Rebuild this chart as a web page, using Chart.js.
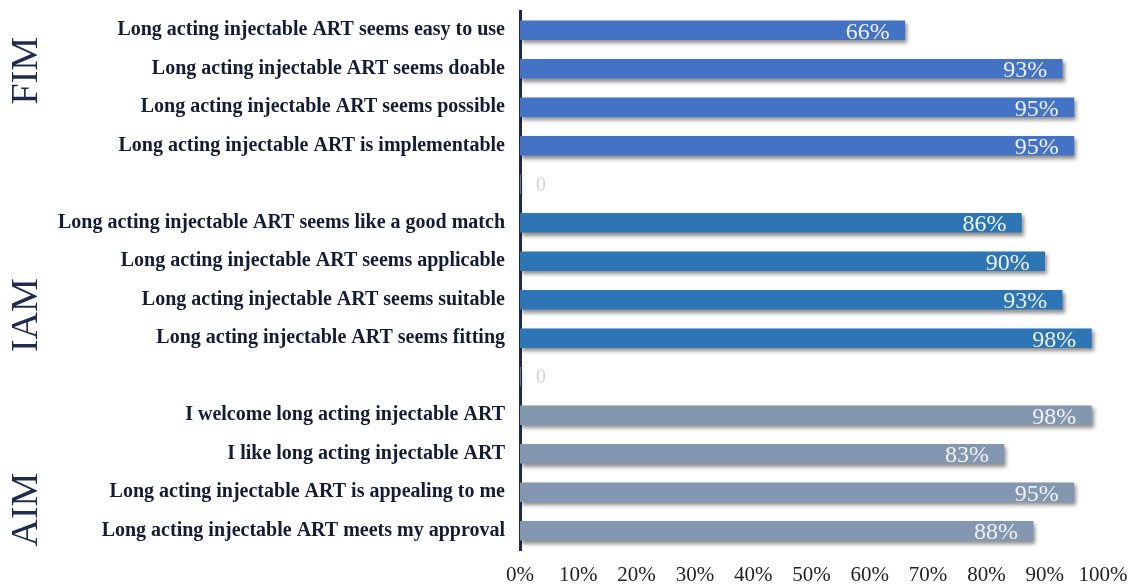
<!DOCTYPE html>
<html>
<head>
<meta charset="utf-8">
<script src="https://cdn.jsdelivr.net/npm/chart.js@4.4.1/dist/chart.umd.min.js"></script>
<style>
  html, body { margin: 0; padding: 0; background: #fff; }
  #wrap { width: 1128px; height: 586px; }
</style>
</head>
<body>
<div id="wrap"><canvas id="barChart"></canvas></div>
<script>
// Rows top to bottom; '' rows are the empty spacers that show "0"
const items = [
    'Long acting injectable ART seems easy to use',
    'Long acting injectable ART seems doable',
    'Long acting injectable ART seems possible',
    'Long acting injectable ART is implementable',
    '',
    'Long acting injectable ART seems like a good match',
    'Long acting injectable ART seems applicable',
    'Long acting injectable ART seems suitable',
    'Long acting injectable ART seems fitting',
    '',
    'I welcome long acting injectable ART',
    'I like long acting injectable ART',
    'Long acting injectable ART is appealing to me',
    'Long acting injectable ART meets my approval'
];
const percents = [66, 93, 95, 95, 0, 86, 90, 93, 98, 0, 98, 83, 95, 88];
const groupOf = ['FIM', 'FIM', 'FIM', 'FIM', '', 'IAM', 'IAM', 'IAM', 'IAM', '', 'AIM', 'AIM', 'AIM', 'AIM'];
const groupNames = ['FIM', 'IAM', 'AIM'];
const groupColors = { FIM: '#4472c4', IAM: '#2e75b6', AIM: '#8497b0' };

// drop shadow under the bars
const barShadow = {
    id: 'barShadow',
    beforeDatasetsDraw(chart) {
        const ctx = chart.ctx;
        ctx.save();
        ctx.shadowColor = 'rgba(0,0,0,0.45)';
        ctx.shadowOffsetX = 2;
        ctx.shadowOffsetY = 3;
        ctx.shadowBlur = 4;
    },
    afterDatasetsDraw(chart) {
        chart.ctx.restore();
    }
};

// value labels and the rotated group names
const extraText = {
    id: 'extraText',
    afterDraw(chart) {
        const ctx = chart.ctx;
        const x = chart.scales.x, y = chart.scales.y;
        ctx.save();
        ctx.textBaseline = 'middle';
        percents.forEach((v, i) => {
            const yy = y.getPixelForValue(i);
            if (v === 0) {
                ctx.font = '20px "Liberation Serif"';
                ctx.fillStyle = '#d4d4d4';
                ctx.textAlign = 'center';
                ctx.fillText('0', x.getPixelForValue(0) + 21, yy + 1);
            } else {
                ctx.font = '24px "Liberation Serif"';
                ctx.fillStyle = '#eef2f9';
                ctx.textAlign = 'right';
                ctx.fillText(v + '%', x.getPixelForValue(v) - 15, yy + 2);
            }
        });
        // group names sit beside the middle of their rows
        ctx.font = '38px "Liberation Serif"';
        ctx.fillStyle = '#1f2b4d';
        ctx.textAlign = 'center';
        const offsets = { FIM: -0.45, IAM: 0.9, AIM: 0.95 };
        groupNames.forEach(name => {
            const first = groupOf.indexOf(name), last = groupOf.lastIndexOf(name);
            const mid = y.getPixelForValue((first + last) / 2 + offsets[name]);
            ctx.save();
            ctx.translate(27, mid);
            ctx.rotate(-Math.PI / 2);
            ctx.fillText(name, 0, 0);
            ctx.restore();
        });
        ctx.restore();
    }
};

const ctxBar = document.getElementById('barChart').getContext('2d');

const barChart = new Chart(ctxBar, {
    type: 'bar',
    data: {
        labels: items,
        datasets: [{
            data: percents,
            backgroundColor: groupOf.map(g => groupColors[g] || '#ffffff'),
            barThickness: 19
        }]
    },
    options: {
        indexAxis: 'y',
        responsive: true,
        maintainAspectRatio: false,
        animation: false,
        layout: { padding: { top: 11, right: 25, bottom: 0, left: 0 } },
        plugins: { legend: { display: false }, tooltip: { enabled: false } },
        scales: {
            x: {
                min: 0,
                max: 100,
                grid: { display: false, drawTicks: false },
                border: { display: false },
                afterFit: scale => { scale.height = 36; scale.paddingRight = 0; },
                ticks: {
                    stepSize: 10,
                    padding: 13,
                    maxRotation: 0,
                    color: '#222',
                    font: { family: 'Liberation Serif', size: 21 },
                    callback: v => v + '%'
                }
            },
            y: {
                grid: { display: false, drawTicks: false },
                border: { display: true, color: '#1b2a52', width: 3 },
                afterFit: scale => { scale.width = 520; scale.paddingTop = 0; scale.paddingBottom = 0; },
                ticks: {
                    padding: 15,
                    color: '#141c33',
                    font: { family: 'Liberation Serif', size: 20, weight: 'bold' }
                }
            }
        }
    },
    plugins: [barShadow, extraText]
});
</script>
</body>
</html>
